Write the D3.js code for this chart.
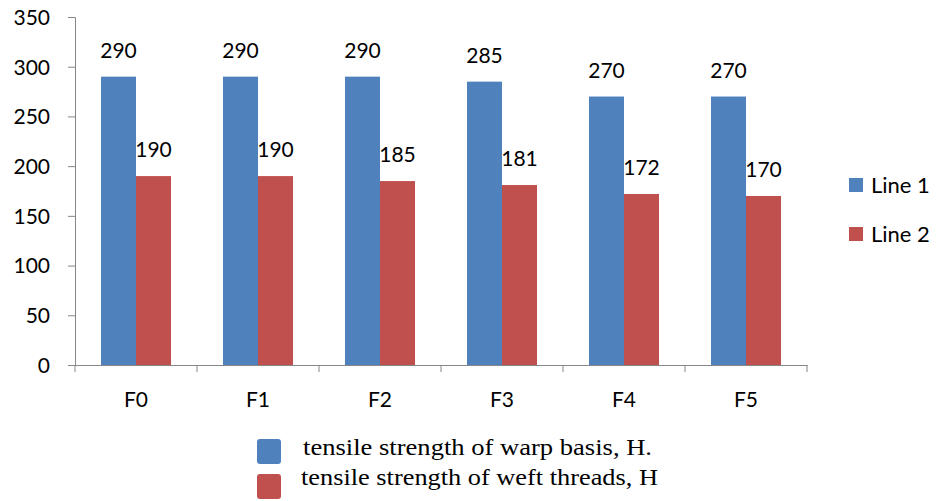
<!DOCTYPE html>
<html>
<head>
<meta charset="utf-8">
<script src="https://cdn.jsdelivr.net/npm/d3@7"></script>
<style>
  body { margin: 0; background: #fff; }
  svg { display: block; }
  .lbl { font-family: Lato, "Open Sans", sans-serif; font-size: 21px; fill: #000; }
  .leg-text { font-size: 22px; }
  .note { font-family: "Liberation Serif", "DejaVu Serif", serif; font-size: 23px; fill: #000; }
</style>
</head>
<body>
<div id="chart"></div>
<script>
const categories = ["F0", "F1", "F2", "F3", "F4", "F5"];
const seriesNames = ["Line 1", "Line 2"];
const line1 = [290, 290, 290, 285, 270, 270];
const line2 = [190, 190, 185, 181, 172, 170];
const yTicks = [0, 50, 100, 150, 200, 250, 300, 350];
const notes = ["tensile strength of warp basis, H.", "tensile strength of weft threads, H"];
const colors = ["#4F81BD", "#C0504D"];

const width = 940,
  height = 501;
const margin = { top: 17, left: 75, right: 133, bottom: 136 };

const svg = d3
  .select("#chart")
  .append("svg")
  .attr("width", width)
  .attr("height", height);

const x0 = d3
  .scaleBand()
  .domain(categories)
  .range([margin.left, width - margin.right])
  .paddingInner(0.426)
  .paddingOuter(0.213);

const x1 = d3.scaleBand().domain(seriesNames).range([0, x0.bandwidth()]);

const y = d3
  .scaleLinear()
  .domain([0, 350])
  .range([height - margin.bottom, margin.top]);

const values = [line1, line2];
const rows = categories.map((c, i) => ({
  cat: c,
  vals: seriesNames.map((s, j) => ({ key: s, value: values[j][i], idx: j })),
}));

// y axis
const yAxis = svg
  .append("g")
  .attr("transform", `translate(${margin.left},0)`)
  .call(d3.axisLeft(y).tickValues(yTicks).tickSize(7).tickPadding(18));
yAxis.select(".domain").attr("stroke", "#868686");
yAxis.selectAll(".tick line").attr("stroke", "#868686");
yAxis.selectAll(".tick text").attr("class", "lbl").attr("dy", "0.35em");

// bars
const groups = svg
  .selectAll(".grp")
  .data(rows)
  .enter()
  .append("g")
  .attr("class", "grp")
  .attr("transform", (d) => `translate(${x0(d.cat)},0)`);

groups
  .selectAll("rect")
  .data((d) => d.vals)
  .enter()
  .append("rect")
  .attr("x", (d) => x1(d.key))
  .attr("width", x1.bandwidth())
  .attr("y", (d) => y(d.value))
  .attr("height", (d) => y(0) - y(d.value))
  .attr("fill", (d) => colors[d.idx]);

groups
  .selectAll("text")
  .data((d) => d.vals)
  .enter()
  .append("text")
  .attr("class", "lbl")
  .attr("text-anchor", "middle")
  .attr("x", (d) => x1(d.key) + x1.bandwidth() / 2)
  .attr("y", (d) => y(d.value) - 19)
  .text((d) => d.value);

// x axis
const xAxis = svg
  .append("g")
  .attr("transform", `translate(0,${y(0)})`)
  .call(d3.axisBottom(x0).tickSize(0).tickPadding(27));
xAxis.select(".domain").attr("stroke", "#868686");
xAxis.selectAll(".tick text").attr("class", "lbl");
const bounds = d3.range(categories.length + 1).map((i) => margin.left + i * x0.step());
xAxis
  .selectAll(".bound")
  .data(bounds)
  .enter()
  .append("line")
  .attr("x1", (d) => d)
  .attr("x2", (d) => d)
  .attr("y1", 0)
  .attr("y2", 7)
  .attr("stroke", "#868686");

// right legend
const legend = svg
  .selectAll(".leg")
  .data(seriesNames)
  .enter()
  .append("g")
  .attr("class", "leg")
  .attr("transform", (d, i) => `translate(849,${178 + i * 49})`);
legend
  .append("rect")
  .attr("width", 14)
  .attr("height", 14)
  .attr("fill", (d, i) => colors[i]);
legend
  .append("text")
  .attr("class", "lbl leg-text")
  .attr("x", 22)
  .attr("y", 7)
  .attr("dy", "0.35em")
  .text((d) => d);

// bottom legend
const noteG = svg
  .selectAll(".note-g")
  .data(notes)
  .enter()
  .append("g")
  .attr("class", "note-g")
  .attr("transform", (d, i) => `translate(257,${439 + i * 35})`);
noteG
  .append("rect")
  .attr("width", 24)
  .attr("height", 25)
  .attr("rx", 3)
  .attr("fill", (d, i) => colors[i]);
noteG
  .append("text")
  .attr("class", "note")
  .attr("x", (d, i) => (i === 0 ? 46 : 44))
  .attr("y", (d, i) => (i === 0 ? 16 : 11))
  .attr("textLength", (d, i) => (i === 0 ? 349 : 357))
  .attr("lengthAdjust", "spacingAndGlyphs")
  .text((d) => d);
</script>
</body>
</html>
